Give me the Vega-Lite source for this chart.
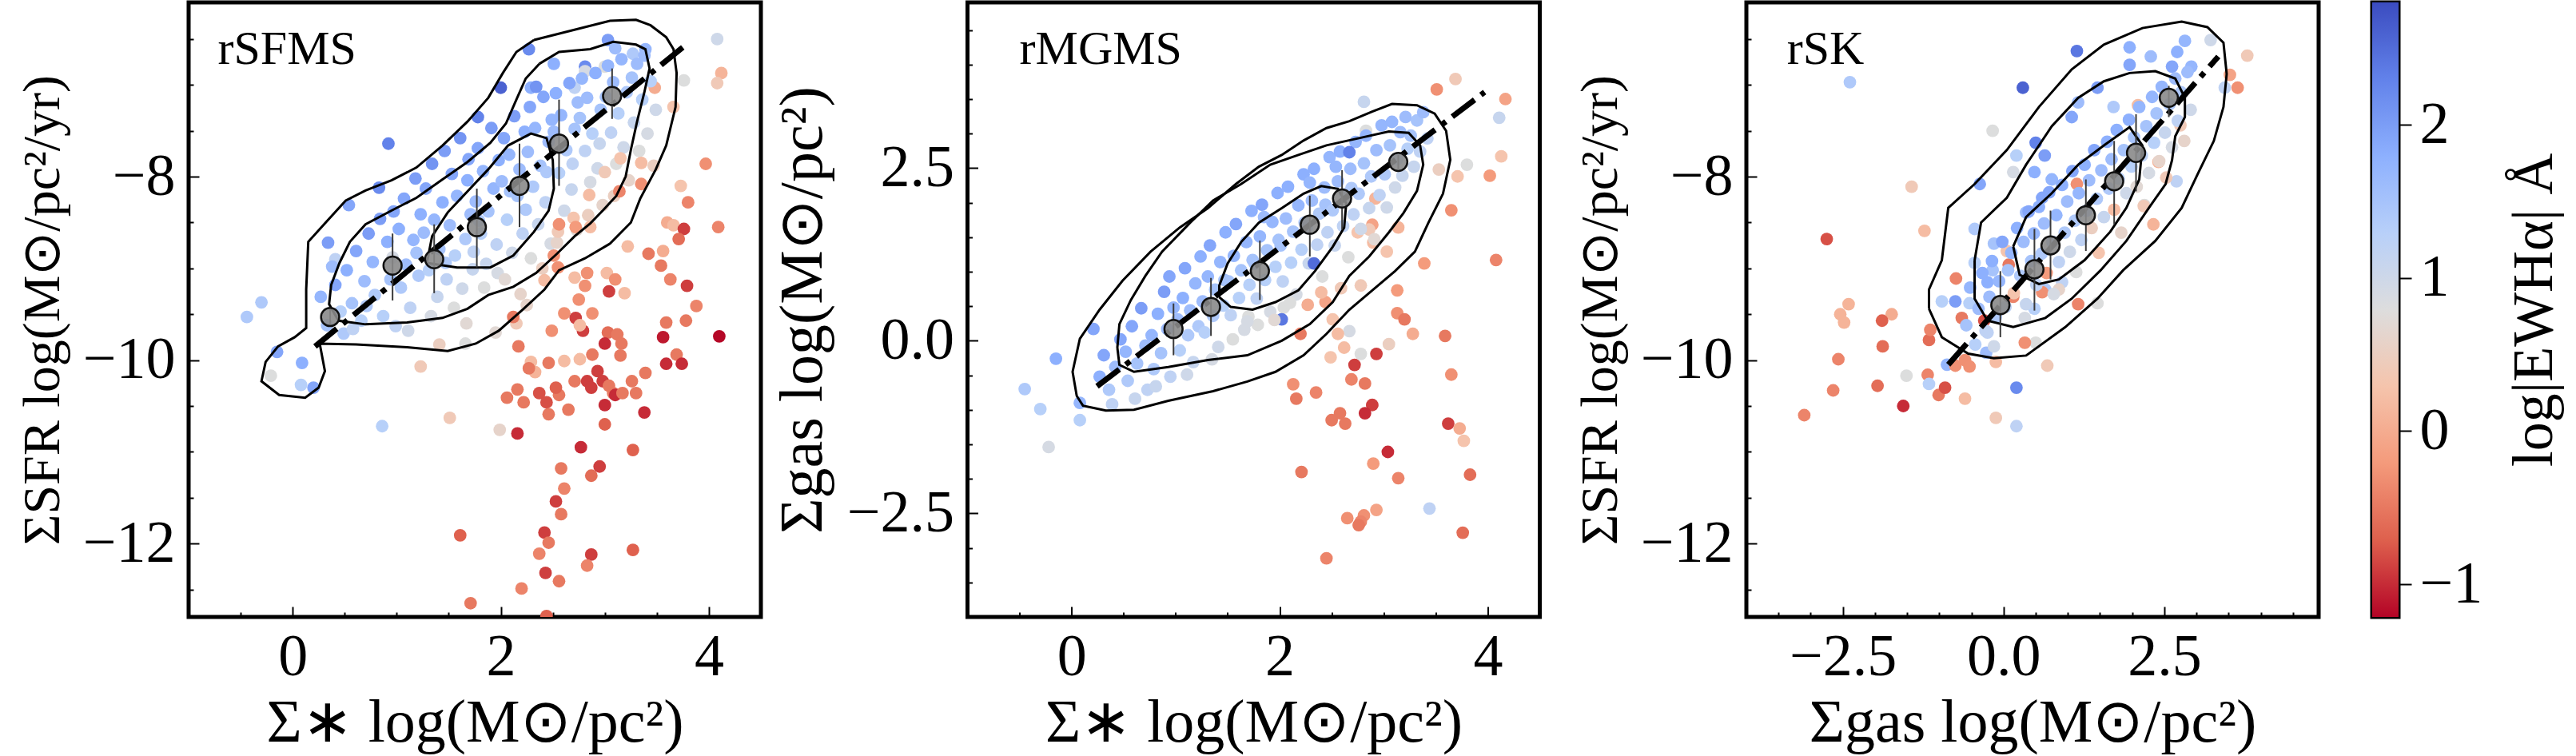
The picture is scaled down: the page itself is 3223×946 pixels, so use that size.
{
"$schema": "https://vega.github.io/schema/vega-lite/v6.json",
"padding": {"left": 17, "top": 0, "right": 0, "bottom": 0},
"background": "white",
"config": {
 "view": {"stroke": "black", "strokeWidth": 5},
 "font": "Liberation Serif",
 "axis": {"labelFont": "Liberation Serif", "titleFont": "Liberation Serif", "labelColor": "black", "titleColor": "black", "grid": false, "domain": false, "tickColor": "black", "labelFontSize": 74, "titleFontSize": 76, "titleFontWeight": "normal", "labelOverlap": false, "labelFlush": false}
},
"datasets": {
 "names": [{"name": "rSFMS"}, {"name": "rMGMS"}, {"name": "rSK"}],
 "p1": [
  {"x":2.27,"y":-6.61,"e":2.2},{"x":3.03,"y":-6.51,"e":2.0},{"x":3.10,"y":-6.60,"e":1.6},{"x":2.81,"y":-6.80,"e":2.2},{"x":2.51,"y":-6.77,"e":1.8},{"x":2.00,"y":-7.03,"e":2.6},{"x":2.29,"y":-7.03,"e":1.8},{"x":2.71,"y":-7.03,"e":1.2},{"x":2.81,"y":-6.85,"e":0.9},{"x":3.00,"y":-6.80,"e":0.8},{"x":3.27,"y":-6.66,"e":1.4},{"x":3.39,"y":-6.61,"e":1.7},{"x":3.48,"y":-7.03,"e":0.0},{"x":3.76,"y":-6.95,"e":0.8},{"x":4.08,"y":-6.50,"e":1.0},{"x":4.12,"y":-6.87,"e":0.1},{"x":4.08,"y":-6.98,"e":0.4},{"x":3.66,"y":-7.24,"e":0.3},{"x":1.78,"y":-7.35,"e":2.3},{"x":0.92,"y":-7.64,"e":2.3},{"x":0.54,"y":-8.31,"e":1.9},{"x":0.34,"y":-8.72,"e":2.0},{"x":0.41,"y":-8.90,"e":1.2},{"x":-0.30,"y":-9.37,"e":1.4},{"x":-0.44,"y":-9.53,"e":1.4},{"x":-0.15,"y":-9.91,"e":1.9},{"x":0.09,"y":-10.03,"e":1.8},{"x":-0.21,"y":-10.17,"e":0.8},{"x":0.08,"y":-10.27,"e":1.3},{"x":0.20,"y":-10.30,"e":1.9},{"x":0.86,"y":-10.72,"e":1.3},{"x":1.23,"y":-10.07,"e":0.4},{"x":1.51,"y":-10.63,"e":0.4},{"x":1.99,"y":-10.76,"e":0.6},
  {"x":0.27,"y":-9.31,"e":1.7},{"x":0.33,"y":-9.62,"e":1.5},{"x":0.41,"y":-9.18,"e":1.9},{"x":0.46,"y":-9.47,"e":1.3},{"x":0.38,"y":-8.98,"e":1.6},{"x":0.49,"y":-9.71,"e":1.4},
  {"x":0.52,"y":-9.02,"e":1.8},{"x":0.57,"y":-9.38,"e":1.5},{"x":0.61,"y":-8.81,"e":1.9},{"x":0.66,"y":-9.57,"e":1.3},{"x":0.69,"y":-9.14,"e":1.6},{"x":0.73,"y":-8.62,"e":2.0},{"x":0.58,"y":-9.66,"e":1.2},{"x":0.71,"y":-9.41,"e":1.4},
  {"x":0.77,"y":-8.93,"e":1.7},{"x":0.79,"y":-9.29,"e":1.4},{"x":0.84,"y":-8.46,"e":2.0},{"x":0.87,"y":-9.52,"e":1.3},{"x":0.91,"y":-8.71,"e":1.8},{"x":0.94,"y":-9.12,"e":1.5},{"x":0.97,"y":-8.38,"e":1.9},{"x":0.99,"y":-9.63,"e":1.2},{"x":0.83,"y":-8.12,"e":2.2},{"x":0.96,"y":-8.88,"e":0.9},
  {"x":1.02,"y":-8.57,"e":1.8},{"x":1.04,"y":-9.21,"e":1.4},{"x":1.07,"y":-8.24,"e":1.9},{"x":1.09,"y":-8.96,"e":1.6},{"x":1.13,"y":-9.43,"e":1.2},{"x":1.16,"y":-8.69,"e":1.7},{"x":1.18,"y":-8.02,"e":2.0},{"x":1.21,"y":-9.08,"e":1.4},{"x":1.23,"y":-8.41,"e":1.8},{"x":1.11,"y":-9.68,"e":1.0},{"x":1.19,"y":-8.83,"e":1.5},
  {"x":1.26,"y":-8.61,"e":1.6},{"x":1.28,"y":-8.13,"e":1.9},{"x":1.31,"y":-9.02,"e":1.3},{"x":1.34,"y":-7.86,"e":2.1},{"x":1.36,"y":-8.47,"e":1.7},{"x":1.39,"y":-9.31,"e":1.1},{"x":1.41,"y":-8.79,"e":1.5},{"x":1.44,"y":-8.28,"e":1.8},{"x":1.46,"y":-7.72,"e":2.0},{"x":1.48,"y":-9.12,"e":1.2},{"x":1.33,"y":-9.52,"e":0.9},{"x":1.47,"y":-8.94,"e":1.4},
  {"x":1.51,"y":-8.53,"e":1.6},{"x":1.53,"y":-7.97,"e":1.9},{"x":1.56,"y":-8.86,"e":1.3},{"x":1.58,"y":-8.21,"e":1.7},{"x":1.61,"y":-7.58,"e":2.1},{"x":1.63,"y":-9.22,"e":1.0},{"x":1.66,"y":-8.68,"e":1.4},{"x":1.68,"y":-8.04,"e":1.8},{"x":1.71,"y":-8.41,"e":1.6},{"x":1.73,"y":-9.01,"e":1.1},{"x":1.55,"y":-9.43,"e":0.8},{"x":1.69,"y":-7.81,"e":1.9},{"x":1.74,"y":-8.82,"e":1.2},
  {"x":1.76,"y":-8.27,"e":1.6},{"x":1.78,"y":-7.69,"e":1.9},{"x":1.81,"y":-8.62,"e":1.3},{"x":1.83,"y":-7.94,"e":1.7},{"x":1.86,"y":-8.95,"e":1.1},{"x":1.88,"y":-8.38,"e":1.5},{"x":1.91,"y":-7.47,"e":2.0},{"x":1.93,"y":-8.13,"e":1.7},{"x":1.96,"y":-8.74,"e":1.2},{"x":1.98,"y":-7.82,"e":1.8},{"x":1.84,"y":-9.21,"e":0.8},{"x":1.97,"y":-9.05,"e":0.9},{"x":1.79,"y":-8.48,"e":1.4},
  {"x":2.01,"y":-8.05,"e":1.6},{"x":2.03,"y":-7.58,"e":1.9},{"x":2.06,"y":-8.47,"e":1.3},{"x":2.08,"y":-7.76,"e":1.7},{"x":2.11,"y":-8.83,"e":1.0},{"x":2.13,"y":-7.34,"e":2.0},{"x":2.16,"y":-8.21,"e":1.5},{"x":2.18,"y":-7.92,"e":1.6},{"x":2.21,"y":-8.62,"e":1.2},{"x":2.23,"y":-7.51,"e":1.8},{"x":2.04,"y":-9.12,"e":0.7},{"x":2.19,"y":-9.28,"e":0.6},{"x":2.24,"y":-8.36,"e":1.4},{"x":2.09,"y":-8.16,"e":1.5},
  {"x":2.26,"y":-7.73,"e":1.6},{"x":2.28,"y":-7.24,"e":1.9},{"x":2.31,"y":-8.11,"e":1.4},{"x":2.33,"y":-7.47,"e":1.7},{"x":2.36,"y":-8.52,"e":1.1},{"x":2.38,"y":-7.88,"e":1.5},{"x":2.41,"y":-7.13,"e":1.9},{"x":2.43,"y":-8.28,"e":1.2},{"x":2.46,"y":-7.62,"e":1.6},{"x":2.48,"y":-8.73,"e":0.9},{"x":2.29,"y":-8.89,"e":0.8},{"x":2.44,"y":-7.95,"e":1.4},{"x":2.34,"y":-7.02,"e":2.1},{"x":2.49,"y":-7.38,"e":1.7},
  {"x":2.51,"y":-7.51,"e":1.6},{"x":2.53,"y":-7.09,"e":1.8},{"x":2.56,"y":-7.96,"e":1.3},{"x":2.58,"y":-7.33,"e":1.7},{"x":2.61,"y":-8.37,"e":1.0},{"x":2.63,"y":-7.71,"e":1.4},{"x":2.66,"y":-6.98,"e":1.9},{"x":2.68,"y":-8.14,"e":1.1},{"x":2.71,"y":-7.48,"e":1.5},{"x":2.73,"y":-8.58,"e":0.7},{"x":2.54,"y":-8.72,"e":0.6},{"x":2.69,"y":-7.86,"e":1.2},{"x":2.74,"y":-7.19,"e":1.6},
  {"x":2.76,"y":-7.36,"e":1.5},{"x":2.78,"y":-6.93,"e":1.7},{"x":2.81,"y":-7.72,"e":1.2},{"x":2.83,"y":-7.14,"e":1.6},{"x":2.86,"y":-8.06,"e":0.9},{"x":2.88,"y":-7.53,"e":1.3},{"x":2.91,"y":-6.87,"e":1.8},{"x":2.93,"y":-7.91,"e":1.0},{"x":2.96,"y":-7.27,"e":1.5},{"x":2.98,"y":-8.31,"e":0.6},{"x":2.84,"y":-8.42,"e":0.5},{"x":2.95,"y":-7.64,"e":1.1},
  {"x":3.01,"y":-7.13,"e":1.5},{"x":3.03,"y":-6.79,"e":1.7},{"x":3.06,"y":-7.52,"e":1.2},{"x":3.08,"y":-6.97,"e":1.6},{"x":3.11,"y":-7.86,"e":0.8},{"x":3.13,"y":-7.31,"e":1.3},{"x":3.16,"y":-6.72,"e":1.7},{"x":3.18,"y":-7.68,"e":1.0},{"x":3.21,"y":-7.08,"e":1.4},{"x":3.23,"y":-8.04,"e":0.6},{"x":3.09,"y":-8.21,"e":0.5},
  {"x":3.26,"y":-6.92,"e":1.5},{"x":3.28,"y":-7.41,"e":1.1},{"x":3.31,"y":-6.77,"e":1.6},{"x":3.33,"y":-7.72,"e":0.8},{"x":3.36,"y":-7.16,"e":1.3},{"x":3.38,"y":-6.68,"e":1.6},{"x":3.41,"y":-7.53,"e":0.9},{"x":3.44,"y":-6.96,"e":1.3},{"x":3.47,"y":-7.88,"e":0.5},{"x":3.49,"y":-7.27,"e":1.0},
  {"x":2.55,"y":-8.60,"e":0.4},{"x":2.70,"y":-8.45,"e":0.3},{"x":2.85,"y":-8.20,"e":0.2},{"x":3.00,"y":-7.95,"e":0.4},{"x":3.15,"y":-7.80,"e":0.3},{"x":3.35,"y":-7.85,"e":0.2},{"x":2.40,"y":-9.00,"e":0.5},{"x":2.25,"y":-9.40,"e":0.6},{"x":1.95,"y":-9.70,"e":0.7},{"x":2.15,"y":-9.60,"e":0.4},{"x":1.66,"y":-9.82,"e":0.8},{"x":1.41,"y":-9.83,"e":0.5},{"x":1.67,"y":-9.60,"e":0.7},
  {"x":3.97,"y":-7.86,"e":-0.3},{"x":3.35,"y":-8.08,"e":-0.3},{"x":3.73,"y":-8.10,"e":0.3},{"x":3.80,"y":-8.28,"e":-0.4},{"x":3.14,"y":-8.16,"e":-0.4},{"x":4.09,"y":-8.55,"e":-0.4},{"x":3.60,"y":-8.50,"e":0.0},{"x":3.66,"y":-8.53,"e":0.2},{"x":3.76,"y":-8.57,"e":-0.9},{"x":3.71,"y":-8.68,"e":-0.6},{"x":3.42,"y":-8.84,"e":-0.5},{"x":3.56,"y":-8.81,"e":0.0},{"x":3.54,"y":-8.97,"e":-0.5},{"x":3.63,"y":-9.12,"e":-0.4},{"x":3.79,"y":-9.19,"e":-0.9},{"x":3.22,"y":-8.76,"e":0.2},{"x":2.86,"y":-8.55,"e":0.2},{"x":2.72,"y":-8.55,"e":-0.2},{"x":2.56,"y":-8.52,"e":-0.3},{"x":2.51,"y":-8.86,"e":-0.3},{"x":2.55,"y":-8.99,"e":-0.3},{"x":2.42,"y":-9.13,"e":0.2},{"x":2.71,"y":-9.10,"e":0.2},{"x":2.83,"y":-9.05,"e":-0.3},{"x":3.02,"y":-9.05,"e":0.2},{"x":3.10,"y":-9.12,"e":-0.3},{"x":3.19,"y":-9.27,"e":0.2},{"x":3.04,"y":-9.25,"e":-0.9},{"x":2.81,"y":-9.19,"e":-0.3},{"x":2.75,"y":-9.34,"e":-0.3},{"x":2.61,"y":-9.49,"e":-0.3},{"x":2.49,"y":-9.68,"e":-0.3},{"x":2.72,"y":-9.54,"e":-0.9},{"x":2.79,"y":-9.68,"e":-0.9},{"x":2.88,"y":-9.49,"e":-0.3},{"x":2.76,"y":-9.62,"e":0.2},{"x":3.03,"y":-9.70,"e":-0.6},{"x":3.00,"y":-9.82,"e":-1.0},{"x":3.12,"y":-9.72,"e":-0.5},{"x":3.16,"y":-9.82,"e":-0.5},{"x":3.15,"y":-9.95,"e":-0.5},{"x":2.88,"y":-9.94,"e":-0.5},{"x":2.76,"y":-9.99,"e":0.2},{"x":2.61,"y":-10.01,"e":0.2},{"x":2.46,"y":-10.03,"e":-0.5},{"x":2.29,"y":-10.02,"e":0.2},{"x":2.33,"y":-10.13,"e":0.1},{"x":2.17,"y":-9.85,"e":-0.5},{"x":2.12,"y":-9.53,"e":-0.5},{"x":2.27,"y":-10.09,"e":-0.5},{"x":2.16,"y":-10.32,"e":-0.5},{"x":2.22,"y":-10.46,"e":-0.5},{"x":2.06,"y":-10.41,"e":-0.5},{"x":2.37,"y":-10.36,"e":-0.8},{"x":2.44,"y":-10.46,"e":-0.8},{"x":2.46,"y":-10.59,"e":-0.5},{"x":2.56,"y":-10.38,"e":-0.5},{"x":2.65,"y":-10.54,"e":-0.5},{"x":2.53,"y":-10.30,"e":-0.7},{"x":2.71,"y":-10.23,"e":-0.5},{"x":2.83,"y":-10.23,"e":-0.9},{"x":2.87,"y":-10.30,"e":-0.9},{"x":2.93,"y":-10.12,"e":-0.9},{"x":2.98,"y":-10.23,"e":-0.9},{"x":3.04,"y":-10.28,"e":-0.5},{"x":3.08,"y":-10.36,"e":-0.5},{"x":3.00,"y":-10.49,"e":-1.0},{"x":3.10,"y":-10.38,"e":-1.0},{"x":3.17,"y":-10.36,"e":-0.5},{"x":3.26,"y":-10.23,"e":-0.5},{"x":3.30,"y":-10.36,"e":-0.5},{"x":3.39,"y":-10.14,"e":-0.5},{"x":3.38,"y":-10.57,"e":-1.0},{"x":3.56,"y":-9.75,"e":-1.1},{"x":3.59,"y":-9.59,"e":-0.5},{"x":3.69,"y":-9.94,"e":-0.5},{"x":3.74,"y":-10.04,"e":-1.0},{"x":3.59,"y":-10.04,"e":-1.0},{"x":3.78,"y":-9.57,"e":-0.5},{"x":3.88,"y":-9.41,"e":-0.4},{"x":4.10,"y":-9.74,"e":-1.2},{"x":3.00,"y":-10.70,"e":-0.7},{"x":2.16,"y":-10.80,"e":-1.0},{"x":2.77,"y":-10.95,"e":-1.0},{"x":3.27,"y":-10.98,"e":-0.7},{"x":2.58,"y":-11.18,"e":-0.5},{"x":2.95,"y":-11.16,"e":-0.9},{"x":2.87,"y":-11.26,"e":-0.6},{"x":2.53,"y":-11.54,"e":-0.9},{"x":2.61,"y":-11.40,"e":-0.4},{"x":2.58,"y":-11.68,"e":-0.5},{"x":1.61,"y":-11.91,"e":-0.7},{"x":2.42,"y":-11.88,"e":-0.9},{"x":2.46,"y":-11.99,"e":-0.5},{"x":3.27,"y":-12.07,"e":-0.7},{"x":2.37,"y":-12.11,"e":-0.4},{"x":2.87,"y":-12.12,"e":-0.9},{"x":2.83,"y":-12.24,"e":-0.4},{"x":2.43,"y":-12.32,"e":-0.9},{"x":2.56,"y":-12.41,"e":-0.5},{"x":2.20,"y":-12.49,"e":-0.4},{"x":1.71,"y":-12.65,"e":-0.5},{"x":2.44,"y":-12.79,"e":-0.7}
 ],
 "c1": [
  {"c":"a","i":0,"x":2.32,"y":-6.51},{"c":"a","i":1,"x":3.05,"y":-6.30},{"c":"a","i":2,"x":3.30,"y":-6.29},{"c":"a","i":3,"x":3.44,"y":-6.35},{"c":"a","i":4,"x":3.59,"y":-6.48},{"c":"a","i":5,"x":3.66,"y":-6.61},{"c":"a","i":6,"x":3.69,"y":-6.87},{"c":"a","i":7,"x":3.68,"y":-7.24},{"c":"a","i":8,"x":3.59,"y":-7.66},{"c":"a","i":9,"x":3.49,"y":-7.92},{"c":"a","i":10,"x":3.34,"y":-8.24},{"c":"a","i":11,"x":3.25,"y":-8.50},{"c":"a","i":12,"x":3.05,"y":-8.73},{"c":"a","i":13,"x":2.81,"y":-8.89},{"c":"a","i":14,"x":2.56,"y":-9.02},{"c":"a","i":15,"x":2.42,"y":-9.23},{"c":"a","i":16,"x":2.22,"y":-9.44},{"c":"a","i":17,"x":1.98,"y":-9.68},{"c":"a","i":18,"x":1.76,"y":-9.82},{"c":"a","i":19,"x":1.49,"y":-9.90},{"c":"a","i":20,"x":1.10,"y":-9.86},{"c":"a","i":21,"x":0.61,"y":-9.83},{"c":"a","i":22,"x":0.26,"y":-9.82},{"c":"a","i":23,"x":0.31,"y":-10.12},{"c":"a","i":24,"x":0.25,"y":-10.30},{"c":"a","i":25,"x":0.12,"y":-10.41},{"c":"a","i":26,"x":-0.13,"y":-10.38},{"c":"a","i":27,"x":-0.30,"y":-10.23},{"c":"a","i":28,"x":-0.26,"y":-10.02},{"c":"a","i":29,"x":-0.14,"y":-9.85},{"c":"a","i":30,"x":0.02,"y":-9.75},{"c":"a","i":31,"x":0.13,"y":-9.65},{"c":"a","i":32,"x":0.13,"y":-9.23},{"c":"a","i":33,"x":0.15,"y":-8.71},{"c":"a","i":34,"x":0.31,"y":-8.51},{"c":"a","i":35,"x":0.51,"y":-8.26},{"c":"a","i":36,"x":0.70,"y":-8.15},{"c":"a","i":37,"x":0.95,"y":-8.04},{"c":"a","i":38,"x":1.19,"y":-7.90},{"c":"a","i":39,"x":1.44,"y":-7.66},{"c":"a","i":40,"x":1.68,"y":-7.40},{"c":"a","i":41,"x":1.88,"y":-7.14},{"c":"a","i":42,"x":2.02,"y":-6.87},{"c":"a","i":43,"x":2.15,"y":-6.64},{"c":"a","i":44,"x":2.32,"y":-6.51},
  {"c":"b","i":0,"x":2.37,"y":-6.77},{"c":"b","i":1,"x":2.56,"y":-6.64},{"c":"b","i":2,"x":2.86,"y":-6.61},{"c":"b","i":3,"x":3.08,"y":-6.53},{"c":"b","i":4,"x":3.30,"y":-6.56},{"c":"b","i":5,"x":3.39,"y":-6.61},{"c":"b","i":6,"x":3.43,"y":-6.82},{"c":"b","i":7,"x":3.38,"y":-7.08},{"c":"b","i":8,"x":3.31,"y":-7.40},{"c":"b","i":9,"x":3.25,"y":-7.71},{"c":"b","i":10,"x":3.20,"y":-8.00},{"c":"b","i":11,"x":3.11,"y":-8.21},{"c":"b","i":12,"x":2.98,"y":-8.37},{"c":"b","i":13,"x":2.86,"y":-8.51},{"c":"b","i":14,"x":2.71,"y":-8.65},{"c":"b","i":15,"x":2.54,"y":-8.84},{"c":"b","i":16,"x":2.34,"y":-9.05},{"c":"b","i":17,"x":2.12,"y":-9.20},{"c":"b","i":18,"x":1.88,"y":-9.29},{"c":"b","i":19,"x":1.68,"y":-9.44},{"c":"b","i":20,"x":1.44,"y":-9.54},{"c":"b","i":21,"x":1.10,"y":-9.59},{"c":"b","i":22,"x":0.70,"y":-9.61},{"c":"b","i":23,"x":0.44,"y":-9.57},{"c":"b","i":24,"x":0.35,"y":-9.39},{"c":"b","i":25,"x":0.37,"y":-9.18},{"c":"b","i":26,"x":0.45,"y":-8.94},{"c":"b","i":27,"x":0.55,"y":-8.71},{"c":"b","i":28,"x":0.70,"y":-8.52},{"c":"b","i":29,"x":0.95,"y":-8.37},{"c":"b","i":30,"x":1.19,"y":-8.23},{"c":"b","i":31,"x":1.44,"y":-8.03},{"c":"b","i":32,"x":1.68,"y":-7.84},{"c":"b","i":33,"x":1.90,"y":-7.63},{"c":"b","i":34,"x":2.05,"y":-7.42},{"c":"b","i":35,"x":2.15,"y":-7.16},{"c":"b","i":36,"x":2.24,"y":-6.93},{"c":"b","i":37,"x":2.37,"y":-6.77},
  {"c":"c","i":0,"x":1.29,"y":-8.94},{"c":"c","i":1,"x":1.34,"y":-8.65},{"c":"c","i":2,"x":1.49,"y":-8.39},{"c":"c","i":3,"x":1.68,"y":-8.16},{"c":"c","i":4,"x":1.88,"y":-7.92},{"c":"c","i":5,"x":2.07,"y":-7.66},{"c":"c","i":6,"x":2.29,"y":-7.53},{"c":"c","i":7,"x":2.44,"y":-7.58},{"c":"c","i":8,"x":2.50,"y":-7.82},{"c":"c","i":9,"x":2.51,"y":-8.13},{"c":"c","i":10,"x":2.46,"y":-8.37},{"c":"c","i":11,"x":2.32,"y":-8.60},{"c":"c","i":12,"x":2.12,"y":-8.86},{"c":"c","i":13,"x":1.90,"y":-8.99},{"c":"c","i":14,"x":1.58,"y":-8.99},{"c":"c","i":15,"x":1.29,"y":-8.94}
 ],
 "f1": [{"x":0.215,"y":-9.85},{"x":3.76,"y":-6.58}],
 "b1": [
  {"x":0.36,"y":-9.53,"lo":-9.62,"hi":-9.44},{"x":0.96,"y":-8.97,"lo":-9.35,"hi":-8.62},{"x":1.36,"y":-8.90,"lo":-9.27,"hi":-8.52},{"x":1.77,"y":-8.55,"lo":-8.99,"hi":-8.13},{"x":2.18,"y":-8.10,"lo":-8.55,"hi":-7.64},{"x":2.56,"y":-7.64,"lo":-8.10,"hi":-7.16},{"x":3.07,"y":-7.12,"lo":-7.37,"hi":-6.82}
 ],
 "p2": [
  {"x":-0.45,"y":-0.70,"e":1.4},{"x":-0.30,"y":-0.99,"e":1.3},{"x":-0.22,"y":-1.54,"e":0.9},{"x":0.08,"y":-1.15,"e":1.3},{"x":0.08,"y":-0.90,"e":1.7},{"x":-0.15,"y":-0.26,"e":1.8},{"x":0.21,"y":0.17,"e":1.9},{"x":2.81,"y":3.46,"e":1.1},{"x":2.83,"y":3.04,"e":0.8},{"x":3.51,"y":3.64,"e":-0.3},{"x":3.69,"y":3.79,"e":0.4},{"x":4.17,"y":3.50,"e":-0.1},{"x":4.11,"y":3.23,"e":1.1},{"x":4.13,"y":2.67,"e":0.3},{"x":4.02,"y":2.39,"e":-0.2},{"x":3.80,"y":2.55,"e":0.8},{"x":3.53,"y":2.48,"e":0.5},{"x":3.71,"y":2.38,"e":0.3},{"x":3.65,"y":1.89,"e":-0.3},{"x":3.39,"y":1.12,"e":-0.2},{"x":4.08,"y":1.17,"e":-0.4},{"x":3.13,"y":0.73,"e":-0.2},{"x":3.13,"y":0.40,"e":-0.3},{"x":3.20,"y":0.31,"e":-0.5},{"x":3.28,"y":0.10,"e":0.0},{"x":3.05,"y":-0.05,"e":0.5},{"x":3.59,"y":0.07,"e":-0.5},{"x":2.93,"y":-0.19,"e":-0.9},{"x":3.65,"y":-0.49,"e":-0.3},{"x":2.72,"y":-0.35,"e":-0.9},{"x":2.82,"y":-0.62,"e":-0.5},{"x":2.69,"y":-0.56,"e":-0.4},{"x":2.89,"y":-0.93,"e":-0.9},{"x":2.82,"y":-1.05,"e":-1.0},{"x":2.58,"y":-1.05,"e":-0.5},{"x":2.63,"y":-1.20,"e":-0.5},{"x":2.50,"y":-1.15,"e":-0.5},{"x":2.35,"y":-0.75,"e":-0.4},{"x":2.16,"y":-0.84,"e":-0.5},{"x":2.13,"y":-0.63,"e":-0.3},{"x":2.20,"y":0.10,"e":-0.5},{"x":2.49,"y":-0.24,"e":0.3},{"x":2.62,"y":-0.10,"e":0.2},{"x":2.78,"y":-0.19,"e":0.8},{"x":2.67,"y":0.14,"e":0.9},{"x":2.56,"y":0.10,"e":0.2},{"x":2.51,"y":0.31,"e":0.3},{"x":2.44,"y":0.56,"e":-0.1},{"x":2.27,"y":0.52,"e":0.0},{"x":2.40,"y":0.70,"e":0.2},{"x":2.59,"y":0.76,"e":0.4},{"x":2.78,"y":0.80,"e":0.4},{"x":2.90,"y":1.42,"e":0.2},{"x":2.89,"y":1.68,"e":-0.1},{"x":2.75,"y":1.57,"e":0.3},{"x":2.86,"y":1.61,"e":0.4},{"x":3.03,"y":1.29,"e":0.3},{"x":3.14,"y":1.64,"e":0.1},{"x":2.92,"y":2.06,"e":0.1},{"x":3.62,"y":-1.20,"e":-0.9},{"x":3.73,"y":-1.27,"e":0.0},{"x":3.77,"y":-1.45,"e":0.3},{"x":3.04,"y":-1.61,"e":-1.0},{"x":2.90,"y":-1.78,"e":-0.2},{"x":2.21,"y":-1.90,"e":-0.5},{"x":3.14,"y":-1.99,"e":-0.4},{"x":3.83,"y":-1.94,"e":-0.6},{"x":2.93,"y":-2.45,"e":-0.1},{"x":2.81,"y":-2.53,"e":-0.3},{"x":2.78,"y":-2.62,"e":-0.4},{"x":2.65,"y":-2.57,"e":-0.3},{"x":2.76,"y":-2.67,"e":-0.5},{"x":3.44,"y":-2.43,"e":1.2},{"x":3.76,"y":-2.78,"e":-0.6},{"x":2.45,"y":-3.15,"e":-0.4},
  {"x":0.27,"y":-0.52,"e":1.8},{"x":0.31,"y":-0.21,"e":1.9},{"x":0.36,"y":-0.71,"e":1.4},{"x":0.42,"y":-0.38,"e":1.6},{"x":0.47,"y":0.02,"e":1.9},{"x":0.39,"y":-0.92,"e":1.2},
  {"x":0.52,"y":-0.16,"e":1.7},{"x":0.54,"y":-0.58,"e":1.4},{"x":0.58,"y":0.21,"e":1.9},{"x":0.63,"y":-0.33,"e":1.5},{"x":0.67,"y":0.47,"e":2.0},{"x":0.71,"y":-0.07,"e":1.6},{"x":0.73,"y":-0.71,"e":1.2},{"x":0.61,"y":-0.84,"e":1.1},
  {"x":0.77,"y":0.08,"e":1.7},{"x":0.79,"y":-0.41,"e":1.4},{"x":0.83,"y":0.39,"e":1.8},{"x":0.86,"y":-0.18,"e":1.5},{"x":0.89,"y":0.71,"e":2.0},{"x":0.92,"y":0.17,"e":1.6},{"x":0.95,"y":-0.52,"e":1.2},{"x":0.98,"y":0.48,"e":1.7},{"x":0.81,"y":-0.66,"e":1.1},{"x":0.94,"y":0.93,"e":1.9},
  {"x":1.02,"y":0.31,"e":1.6},{"x":1.04,"y":-0.14,"e":1.3},{"x":1.07,"y":0.62,"e":1.8},{"x":1.09,"y":1.05,"e":1.9},{"x":1.12,"y":0.08,"e":1.4},{"x":1.14,"y":0.44,"e":1.6},{"x":1.17,"y":-0.31,"e":1.1},{"x":1.19,"y":0.83,"e":1.7},{"x":1.22,"y":0.21,"e":1.4},{"x":1.24,"y":1.22,"e":1.8},{"x":1.11,"y":-0.49,"e":1.0},
  {"x":1.26,"y":0.57,"e":1.6},{"x":1.28,"y":0.12,"e":1.3},{"x":1.31,"y":0.93,"e":1.7},{"x":1.33,"y":1.38,"e":1.9},{"x":1.36,"y":0.36,"e":1.4},{"x":1.38,"y":0.74,"e":1.5},{"x":1.41,"y":-0.09,"e":1.0},{"x":1.43,"y":1.14,"e":1.7},{"x":1.46,"y":0.51,"e":1.3},{"x":1.48,"y":1.57,"e":1.8},{"x":1.35,"y":-0.27,"e":0.9},{"x":1.47,"y":0.88,"e":1.5},
  {"x":1.51,"y":0.86,"e":1.5},{"x":1.53,"y":0.37,"e":1.2},{"x":1.56,"y":1.23,"e":1.7},{"x":1.58,"y":1.69,"e":1.9},{"x":1.61,"y":0.62,"e":1.3},{"x":1.63,"y":1.02,"e":1.5},{"x":1.66,"y":0.16,"e":0.9},{"x":1.68,"y":1.43,"e":1.7},{"x":1.71,"y":0.81,"e":1.3},{"x":1.73,"y":1.88,"e":1.8},{"x":1.55,"y":0.02,"e":0.8},{"x":1.74,"y":1.17,"e":1.5},
  {"x":1.76,"y":1.12,"e":1.5},{"x":1.78,"y":0.61,"e":1.2},{"x":1.81,"y":1.51,"e":1.7},{"x":1.83,"y":1.97,"e":1.9},{"x":1.86,"y":0.88,"e":1.3},{"x":1.88,"y":1.31,"e":1.5},{"x":1.91,"y":0.42,"e":0.9},{"x":1.93,"y":1.72,"e":1.7},{"x":1.96,"y":1.07,"e":1.3},{"x":1.98,"y":2.14,"e":1.8},{"x":1.79,"y":0.23,"e":0.8},{"x":1.99,"y":1.46,"e":1.5},{"x":1.85,"y":1.79,"e":1.6},
  {"x":2.01,"y":1.38,"e":1.5},{"x":2.03,"y":0.86,"e":1.2},{"x":2.06,"y":1.77,"e":1.6},{"x":2.08,"y":2.23,"e":1.8},{"x":2.11,"y":1.13,"e":1.3},{"x":2.13,"y":1.58,"e":1.5},{"x":2.16,"y":0.67,"e":0.9},{"x":2.18,"y":1.96,"e":1.7},{"x":2.21,"y":1.32,"e":1.3},{"x":2.23,"y":2.41,"e":1.8},{"x":2.04,"y":0.48,"e":0.8},{"x":2.24,"y":1.71,"e":1.4},
  {"x":2.26,"y":1.64,"e":1.5},{"x":2.28,"y":1.12,"e":1.1},{"x":2.31,"y":2.03,"e":1.6},{"x":2.33,"y":2.49,"e":1.8},{"x":2.36,"y":1.39,"e":1.2},{"x":2.38,"y":1.84,"e":1.4},{"x":2.41,"y":0.93,"e":0.8},{"x":2.43,"y":2.22,"e":1.6},{"x":2.46,"y":1.57,"e":1.2},{"x":2.48,"y":2.66,"e":1.7},{"x":2.29,"y":2.29,"e":1.7},{"x":2.44,"y":1.97,"e":1.5},
  {"x":2.51,"y":1.89,"e":1.4},{"x":2.53,"y":1.38,"e":1.1},{"x":2.56,"y":2.31,"e":1.6},{"x":2.58,"y":2.74,"e":1.8},{"x":2.61,"y":1.66,"e":1.2},{"x":2.63,"y":2.12,"e":1.4},{"x":2.66,"y":1.21,"e":0.8},{"x":2.68,"y":2.49,"e":1.6},{"x":2.71,"y":1.83,"e":1.2},{"x":2.73,"y":2.88,"e":1.7},{"x":2.54,"y":2.52,"e":1.7},{"x":2.69,"y":2.21,"e":1.4},
  {"x":2.76,"y":2.13,"e":1.4},{"x":2.78,"y":1.62,"e":1.0},{"x":2.81,"y":2.57,"e":1.5},{"x":2.83,"y":2.97,"e":1.7},{"x":2.86,"y":1.92,"e":1.1},{"x":2.88,"y":2.38,"e":1.4},{"x":2.91,"y":1.47,"e":0.7},{"x":2.93,"y":2.76,"e":1.6},{"x":2.96,"y":2.11,"e":1.2},{"x":2.98,"y":3.12,"e":1.7},
  {"x":3.01,"y":2.41,"e":1.4},{"x":3.03,"y":1.93,"e":1.0},{"x":3.06,"y":2.83,"e":1.5},{"x":3.08,"y":3.17,"e":1.7},{"x":3.11,"y":2.22,"e":1.0},{"x":3.13,"y":2.63,"e":1.3},{"x":3.16,"y":3.02,"e":1.6},{"x":3.18,"y":2.39,"e":1.1},{"x":3.21,"y":3.24,"e":1.6},{"x":3.23,"y":2.78,"e":1.3},
  {"x":3.26,"y":2.97,"e":1.5},{"x":3.29,"y":2.52,"e":1.1},{"x":3.32,"y":3.19,"e":1.5},{"x":3.35,"y":2.74,"e":1.2},{"x":3.38,"y":3.31,"e":1.6},{"x":3.42,"y":2.93,"e":1.2},
  {"x":2.33,"y":1.12,"e":2.5},{"x":2.02,"y":0.31,"e":2.4},{"x":2.67,"y":2.73,"e":2.3},{"x":1.70,"y":0.35,"e":0.8},{"x":1.95,"y":0.30,"e":0.7},{"x":2.10,"y":0.55,"e":0.8},{"x":1.69,"y":0.28,"e":0.9}
 ],
 "c2": [
  {"c":"a","i":0,"x":0.05,"y":-0.80},{"c":"a","i":1,"x":0.11,"y":-0.94},{"c":"a","i":2,"x":0.33,"y":-1.01},{"c":"a","i":3,"x":0.60,"y":-1.00},{"c":"a","i":4,"x":0.93,"y":-0.87},{"c":"a","i":5,"x":1.36,"y":-0.73},{"c":"a","i":6,"x":1.69,"y":-0.59},{"c":"a","i":7,"x":1.96,"y":-0.45},{"c":"a","i":8,"x":2.23,"y":-0.21},{"c":"a","i":9,"x":2.45,"y":0.10},{"c":"a","i":10,"x":2.67,"y":0.45},{"c":"a","i":11,"x":2.89,"y":0.73},{"c":"a","i":12,"x":3.11,"y":1.01},{"c":"a","i":13,"x":3.30,"y":1.29},{"c":"a","i":14,"x":3.43,"y":1.71},{"c":"a","i":15,"x":3.57,"y":2.13},{"c":"a","i":16,"x":3.64,"y":2.62},{"c":"a","i":17,"x":3.60,"y":3.04},{"c":"a","i":18,"x":3.49,"y":3.29},{"c":"a","i":19,"x":3.32,"y":3.41},{"c":"a","i":20,"x":3.08,"y":3.43},{"c":"a","i":21,"x":2.89,"y":3.32},{"c":"a","i":22,"x":2.67,"y":3.18},{"c":"a","i":23,"x":2.45,"y":3.08},{"c":"a","i":24,"x":2.23,"y":2.90},{"c":"a","i":25,"x":2.02,"y":2.69},{"c":"a","i":26,"x":1.80,"y":2.52},{"c":"a","i":27,"x":1.58,"y":2.27},{"c":"a","i":28,"x":1.31,"y":1.92},{"c":"a","i":29,"x":1.04,"y":1.64},{"c":"a","i":30,"x":0.76,"y":1.29},{"c":"a","i":31,"x":0.49,"y":0.87},{"c":"a","i":32,"x":0.27,"y":0.45},{"c":"a","i":33,"x":0.08,"y":0.03},{"c":"a","i":34,"x":0.01,"y":-0.45},{"c":"a","i":35,"x":0.05,"y":-0.80},
  {"c":"b","i":0,"x":0.44,"y":-0.10},{"c":"b","i":1,"x":0.46,"y":-0.35},{"c":"b","i":2,"x":0.60,"y":-0.45},{"c":"b","i":3,"x":0.93,"y":-0.38},{"c":"b","i":4,"x":1.31,"y":-0.28},{"c":"b","i":5,"x":1.69,"y":-0.21},{"c":"b","i":6,"x":2.02,"y":0.00},{"c":"b","i":7,"x":2.29,"y":0.24},{"c":"b","i":8,"x":2.51,"y":0.56},{"c":"b","i":9,"x":2.67,"y":0.94},{"c":"b","i":10,"x":2.86,"y":1.22},{"c":"b","i":11,"x":3.05,"y":1.57},{"c":"b","i":12,"x":3.19,"y":1.85},{"c":"b","i":13,"x":3.32,"y":2.17},{"c":"b","i":14,"x":3.38,"y":2.55},{"c":"b","i":15,"x":3.35,"y":2.83},{"c":"b","i":16,"x":3.24,"y":3.01},{"c":"b","i":17,"x":3.05,"y":3.03},{"c":"b","i":18,"x":2.78,"y":2.94},{"c":"b","i":19,"x":2.45,"y":2.83},{"c":"b","i":20,"x":2.18,"y":2.69},{"c":"b","i":21,"x":1.91,"y":2.55},{"c":"b","i":22,"x":1.63,"y":2.27},{"c":"b","i":23,"x":1.36,"y":2.03},{"c":"b","i":24,"x":1.14,"y":1.71},{"c":"b","i":25,"x":0.87,"y":1.29},{"c":"b","i":26,"x":0.71,"y":0.94},{"c":"b","i":27,"x":0.57,"y":0.59},{"c":"b","i":28,"x":0.46,"y":0.24},{"c":"b","i":29,"x":0.44,"y":-0.10},
  {"c":"c","i":0,"x":1.42,"y":0.63},{"c":"c","i":1,"x":1.53,"y":0.49},{"c":"c","i":2,"x":1.74,"y":0.45},{"c":"c","i":3,"x":1.96,"y":0.56},{"c":"c","i":4,"x":2.18,"y":0.73},{"c":"c","i":5,"x":2.34,"y":1.01},{"c":"c","i":6,"x":2.51,"y":1.36},{"c":"c","i":7,"x":2.62,"y":1.64},{"c":"c","i":8,"x":2.64,"y":1.99},{"c":"c","i":9,"x":2.56,"y":2.20},{"c":"c","i":10,"x":2.40,"y":2.24},{"c":"c","i":11,"x":2.23,"y":2.13},{"c":"c","i":12,"x":2.02,"y":1.92},{"c":"c","i":13,"x":1.80,"y":1.71},{"c":"c","i":14,"x":1.63,"y":1.43},{"c":"c","i":15,"x":1.50,"y":1.12},{"c":"c","i":16,"x":1.42,"y":0.80},{"c":"c","i":17,"x":1.42,"y":0.63}
 ],
 "f2": [{"x":0.245,"y":-0.66},{"x":3.97,"y":3.60}],
 "b2": [
  {"x":0.98,"y":0.17,"lo":-0.21,"hi":0.54},{"x":1.34,"y":0.49,"lo":0.07,"hi":0.91},{"x":1.81,"y":1.01,"lo":0.59,"hi":1.45},{"x":2.29,"y":1.68,"lo":1.22,"hi":2.10},{"x":2.60,"y":2.06,"lo":1.61,"hi":2.47},{"x":3.14,"y":2.59,"lo":2.48,"hi":2.69}
 ],
 "p3": [
  {"x":-2.39,"y":-6.97,"e":1.4},{"x":-2.75,"y":-8.68,"e":-0.8},{"x":-1.43,"y":-8.11,"e":0.4},{"x":-1.23,"y":-8.59,"e":0.2},{"x":-2.41,"y":-9.39,"e":0.1},{"x":-2.54,"y":-9.50,"e":0.1},{"x":-2.48,"y":-9.59,"e":0.1},{"x":-1.74,"y":-9.50,"e":0.0},{"x":-1.89,"y":-9.57,"e":-0.7},{"x":-2.57,"y":-9.99,"e":-0.4},{"x":-1.88,"y":-9.85,"e":-0.6},{"x":-2.65,"y":-10.33,"e":-0.4},{"x":-1.96,"y":-10.28,"e":-0.6},{"x":-3.10,"y":-10.60,"e":-0.4},{"x":-1.56,"y":-10.50,"e":-1.0},{"x":-1.51,"y":-10.17,"e":0.8},{"x":-1.16,"y":-9.78,"e":-0.6},{"x":-1.14,"y":-9.67,"e":-0.4},{"x":-1.18,"y":-10.16,"e":-0.4},{"x":-1.16,"y":-10.26,"e":1.3},{"x":-1.01,"y":-10.38,"e":-0.5},{"x":-0.91,"y":-10.30,"e":-0.8},{"x":-0.88,"y":-10.05,"e":1.7},{"x":-0.60,"y":-10.42,"e":0.2},{"x":-0.60,"y":-10.00,"e":-0.3},{"x":-0.75,"y":-10.06,"e":-0.3},{"x":-0.53,"y":-10.07,"e":-0.3},{"x":-0.12,"y":-10.02,"e":0.2},{"x":-0.12,"y":-10.63,"e":0.4},{"x":0.20,"y":-10.72,"e":1.2},{"x":0.20,"y":-10.30,"e":2.2},{"x":0.68,"y":-10.06,"e":0.4},{"x":0.50,"y":-9.81,"e":0.8},{"x":0.33,"y":-9.81,"e":-0.3},{"x":-0.27,"y":-9.92,"e":1.6},{"x":-0.30,"y":-9.57,"e":-0.8},{"x":-0.65,"y":-9.54,"e":-0.5},{"x":-0.17,"y":-7.50,"e":0.8},{"x":-0.37,"y":-8.08,"e":1.9},{"x":0.30,"y":-7.03,"e":2.6},{"x":1.14,"y":-6.63,"e":2.4},{"x":1.96,"y":-6.59,"e":1.8},{"x":1.96,"y":-6.78,"e":1.9},{"x":2.29,"y":-6.69,"e":1.6},{"x":2.70,"y":-6.64,"e":1.8},{"x":2.82,"y":-6.52,"e":1.7},{"x":3.22,"y":-6.51,"e":1.0},{"x":3.79,"y":-6.68,"e":0.4},{"x":3.52,"y":-6.89,"e":-0.1},{"x":3.64,"y":-7.03,"e":-0.3},{"x":3.44,"y":-7.03,"e":1.2},{"x":2.92,"y":-6.80,"e":1.7},{"x":2.62,"y":-6.80,"e":1.9},{"x":2.75,"y":-7.44,"e":0.4},{"x":2.69,"y":-8.05,"e":1.2},{"x":2.33,"y":-8.52,"e":0.1},{"x":2.41,"y":-7.84,"e":0.1},{"x":2.19,"y":-8.31,"e":0.8},{"x":2.09,"y":-7.22,"e":0.2},{"x":1.16,"y":-7.19,"e":1.6},{"x":1.06,"y":-7.35,"e":1.9},{"x":1.46,"y":-7.03,"e":2.0},{"x":1.71,"y":-7.24,"e":1.4},{"x":0.50,"y":-7.63,"e":2.3},{"x":0.64,"y":-7.77,"e":2.0},{"x":0.20,"y":-7.77,"e":1.3},{"x":0.15,"y":-7.95,"e":0.9},{"x":0.48,"y":-7.95,"e":1.8},{"x":0.75,"y":-8.03,"e":1.7},{"x":1.14,"y":-8.08,"e":-0.3},{"x":0.60,"y":-8.23,"e":1.9},{"x":0.35,"y":-8.39,"e":1.6},{"x":-0.45,"y":-8.57,"e":1.4},{"x":-0.15,"y":-8.73,"e":1.5},{"x":0.05,"y":-8.81,"e":0.3},{"x":0.08,"y":-8.96,"e":-0.5},{"x":-0.45,"y":-8.94,"e":1.3},{"x":-0.17,"y":-9.02,"e":1.5},{"x":-0.25,"y":-9.15,"e":1.8},{"x":-0.74,"y":-9.11,"e":-0.4},{"x":-0.96,"y":-9.36,"e":1.3},{"x":-0.75,"y":-9.36,"e":2.0},{"x":-0.53,"y":-9.38,"e":1.3},{"x":-0.25,"y":-9.70,"e":1.2},{"x":0.15,"y":-9.31,"e":-0.4},{"x":0.33,"y":-9.54,"e":0.9},{"x":0.48,"y":-9.44,"e":1.3},{"x":0.65,"y":-9.23,"e":1.4},{"x":0.91,"y":-9.15,"e":1.2},{"x":1.16,"y":-9.39,"e":-0.4},{"x":1.46,"y":-9.38,"e":0.8},{"x":0.60,"y":-9.26,"e":-0.3},{"x":0.86,"y":-9.23,"e":0.6},
  {"x":-0.58,"y":-9.62,"e":1.5},{"x":-0.52,"y":-9.21,"e":1.7},{"x":-0.44,"y":-9.83,"e":1.3},{"x":-0.39,"y":-9.44,"e":1.6},{"x":-0.33,"y":-9.05,"e":1.8},{"x":-0.28,"y":-9.68,"e":1.2},
  {"x":-0.22,"y":-9.31,"e":1.6},{"x":-0.18,"y":-8.92,"e":1.8},{"x":-0.12,"y":-9.53,"e":1.4},{"x":-0.07,"y":-9.14,"e":1.7},{"x":-0.02,"y":-8.71,"e":1.9},{"x":0.03,"y":-9.42,"e":1.2},{"x":0.07,"y":-9.02,"e":1.5},{"x":-0.15,"y":-9.85,"e":1.0},
  {"x":0.12,"y":-8.83,"e":1.7},{"x":0.16,"y":-9.27,"e":0.3},{"x":0.21,"y":-8.56,"e":1.8},{"x":0.26,"y":-9.08,"e":1.4},{"x":0.31,"y":-8.71,"e":1.6},{"x":0.35,"y":-9.39,"e":1.1},{"x":0.39,"y":-8.38,"e":1.9},{"x":0.43,"y":-8.92,"e":1.5},
  {"x":0.47,"y":-8.62,"e":1.7},{"x":0.51,"y":-9.18,"e":1.2},{"x":0.55,"y":-8.33,"e":1.8},{"x":0.59,"y":-8.84,"e":1.4},{"x":0.63,"y":-8.51,"e":1.6},{"x":0.67,"y":-9.05,"e":-0.2},{"x":0.71,"y":-8.17,"e":1.9},{"x":0.76,"y":-8.71,"e":1.5},{"x":0.78,"y":-9.28,"e":0.9},
  {"x":0.82,"y":-8.42,"e":1.7},{"x":0.86,"y":-8.93,"e":1.2},{"x":0.91,"y":-8.09,"e":1.8},{"x":0.95,"y":-8.61,"e":1.4},{"x":0.99,"y":-8.27,"e":1.6},{"x":1.03,"y":-8.82,"e":1.0},{"x":1.07,"y":-7.94,"e":1.9},{"x":1.11,"y":-8.48,"e":1.4},{"x":1.13,"y":-9.04,"e":0.8},
  {"x":1.17,"y":-8.18,"e":1.7},{"x":1.21,"y":-8.69,"e":1.2},{"x":1.26,"y":-7.87,"e":1.8},{"x":1.29,"y":-8.37,"e":1.5},{"x":1.33,"y":-8.04,"e":1.6},{"x":1.37,"y":-8.56,"e":0.5},{"x":1.41,"y":-7.71,"e":1.9},{"x":1.45,"y":-8.24,"e":1.4},{"x":1.48,"y":-8.83,"e":0.3},
  {"x":1.52,"y":-7.93,"e":1.6},{"x":1.56,"y":-8.44,"e":1.1},{"x":1.61,"y":-7.62,"e":1.8},{"x":1.64,"y":-8.13,"e":1.4},{"x":1.68,"y":-7.81,"e":1.6},{"x":1.72,"y":-8.36,"e":0.2},{"x":1.76,"y":-7.49,"e":1.8},{"x":1.79,"y":-8.02,"e":1.3},{"x":1.83,"y":-8.61,"e":0.6},
  {"x":1.87,"y":-7.71,"e":1.5},{"x":1.91,"y":-8.18,"e":1.0},{"x":1.95,"y":-7.38,"e":1.8},{"x":1.99,"y":-7.89,"e":1.3},{"x":2.03,"y":-7.57,"e":1.5},{"x":2.07,"y":-8.11,"e":0.7},{"x":2.11,"y":-7.24,"e":1.7},{"x":2.15,"y":-7.77,"e":1.2},{"x":2.18,"y":-8.32,"e":0.4},
  {"x":2.22,"y":-7.45,"e":1.5},{"x":2.26,"y":-7.96,"e":0.9},{"x":2.31,"y":-7.13,"e":1.7},{"x":2.34,"y":-7.63,"e":1.3},{"x":2.38,"y":-7.31,"e":1.5},{"x":2.42,"y":-7.83,"e":0.6},{"x":2.46,"y":-7.02,"e":1.7},{"x":2.51,"y":-7.52,"e":1.1},{"x":2.53,"y":-8.01,"e":0.4},
  {"x":2.58,"y":-7.21,"e":1.4},{"x":2.62,"y":-7.68,"e":0.9},{"x":2.67,"y":-6.93,"e":1.6},{"x":2.71,"y":-7.39,"e":1.2},{"x":2.76,"y":-7.08,"e":1.4},{"x":2.81,"y":-7.61,"e":0.6},{"x":2.86,"y":-6.86,"e":1.6},{"x":2.91,"y":-7.27,"e":1.0}
 ],
 "c3": [
  {"c":"a","i":0,"x":-1.16,"y":-9.44},{"c":"a","i":1,"x":-1.16,"y":-9.23},{"c":"a","i":2,"x":-0.96,"y":-8.91},{"c":"a","i":3,"x":-0.86,"y":-8.34},{"c":"a","i":4,"x":-0.45,"y":-8.08},{"c":"a","i":5,"x":0.05,"y":-7.71},{"c":"a","i":6,"x":0.55,"y":-7.24},{"c":"a","i":7,"x":1.06,"y":-6.83},{"c":"a","i":8,"x":1.56,"y":-6.56},{"c":"a","i":9,"x":2.16,"y":-6.38},{"c":"a","i":10,"x":2.77,"y":-6.31},{"c":"a","i":11,"x":3.17,"y":-6.37},{"c":"a","i":12,"x":3.42,"y":-6.54},{"c":"a","i":13,"x":3.47,"y":-6.88},{"c":"a","i":14,"x":3.42,"y":-7.24},{"c":"a","i":15,"x":3.27,"y":-7.61},{"c":"a","i":16,"x":3.02,"y":-7.97},{"c":"a","i":17,"x":2.77,"y":-8.34},{"c":"a","i":18,"x":2.36,"y":-8.70},{"c":"a","i":19,"x":1.86,"y":-9.02},{"c":"a","i":20,"x":1.46,"y":-9.33},{"c":"a","i":21,"x":0.96,"y":-9.64},{"c":"a","i":22,"x":0.35,"y":-9.95},{"c":"a","i":23,"x":-0.15,"y":-9.98},{"c":"a","i":24,"x":-0.55,"y":-9.93},{"c":"a","i":25,"x":-0.96,"y":-9.75},{"c":"a","i":26,"x":-1.16,"y":-9.44},
  {"c":"b","i":0,"x":-0.45,"y":-8.91},{"c":"b","i":1,"x":-0.35,"y":-8.50},{"c":"b","i":2,"x":0.05,"y":-8.23},{"c":"b","i":3,"x":0.35,"y":-7.87},{"c":"b","i":4,"x":0.75,"y":-7.45},{"c":"b","i":5,"x":1.16,"y":-7.14},{"c":"b","i":6,"x":1.56,"y":-6.96},{"c":"b","i":7,"x":1.96,"y":-6.87},{"c":"b","i":8,"x":2.36,"y":-6.85},{"c":"b","i":9,"x":2.67,"y":-6.93},{"c":"b","i":10,"x":2.82,"y":-7.14},{"c":"b","i":11,"x":2.82,"y":-7.35},{"c":"b","i":12,"x":2.67,"y":-7.56},{"c":"b","i":13,"x":2.62,"y":-7.82},{"c":"b","i":14,"x":2.52,"y":-8.08},{"c":"b","i":15,"x":2.26,"y":-8.34},{"c":"b","i":16,"x":1.91,"y":-8.70},{"c":"b","i":17,"x":1.51,"y":-9.02},{"c":"b","i":18,"x":1.06,"y":-9.33},{"c":"b","i":19,"x":0.65,"y":-9.54},{"c":"b","i":20,"x":0.15,"y":-9.64},{"c":"b","i":21,"x":-0.25,"y":-9.57},{"c":"b","i":22,"x":-0.45,"y":-9.33},{"c":"b","i":23,"x":-0.45,"y":-8.91},
  {"c":"c","i":0,"x":0.15,"y":-8.76},{"c":"c","i":1,"x":0.35,"y":-8.44},{"c":"c","i":2,"x":0.75,"y":-8.18},{"c":"c","i":3,"x":1.16,"y":-7.87},{"c":"c","i":4,"x":1.56,"y":-7.66},{"c":"c","i":5,"x":1.96,"y":-7.46},{"c":"c","i":6,"x":2.16,"y":-7.66},{"c":"c","i":7,"x":2.11,"y":-8.03},{"c":"c","i":8,"x":1.91,"y":-8.34},{"c":"c","i":9,"x":1.66,"y":-8.60},{"c":"c","i":10,"x":1.26,"y":-8.91},{"c":"c","i":11,"x":0.86,"y":-9.12},{"c":"c","i":12,"x":0.55,"y":-9.17},{"c":"c","i":13,"x":0.25,"y":-9.07},{"c":"c","i":14,"x":0.15,"y":-8.76}
 ],
 "f3": [{"x":-0.86,"y":-10.05},{"x":3.34,"y":-6.69}],
 "b3": [
  {"x":-0.05,"y":-9.40,"lo":-9.75,"hi":-9.03},{"x":0.48,"y":-9.01,"lo":-9.46,"hi":-8.57},{"x":0.73,"y":-8.75,"lo":-9.12,"hi":-8.37},{"x":1.28,"y":-8.42,"lo":-8.81,"hi":-8.03},{"x":1.72,"y":-8.05,"lo":-8.52,"hi":-7.61},{"x":2.06,"y":-7.74,"lo":-8.16,"hi":-7.32},{"x":2.57,"y":-7.14,"lo":-7.35,"hi":-7.01}
 ],
 "cb": [{"lo": -1.214, "hi": 2.8}]
},
"spacing": 61,
"hconcat": [
 {
  "bounds": "flush",
  "spacing": 258.5,
  "hconcat": [
   {
    "width": 716, "height": 769,
    "resolve": {"axis": {"x": "independent", "y": "independent"}},
    "layer": [
     {"data": {"name": "p1"}, "mark": {"type": "circle", "size": 250, "opacity": 1, "clip": true},
      "encoding": {
       "x": {"field": "x", "type": "quantitative", "scale": {"domain": [-1, 4.5], "nice": false, "zero": false}, "axis": {"orient": "bottom", "values": [0, 2, 4], "ticks": false, "labelPadding": 14, "title": "Σ∗ log(M⊙/pc²)", "titlePadding": 8}},
       "y": {"field": "y", "type": "quantitative", "scale": {"domain": [-12.8, -6.1], "nice": false, "zero": false}, "axis": {"orient": "left", "values": [-12, -10, -8], "ticks": false, "labelPadding": 17, "title": "ΣSFR log(M⊙/pc²/yr)", "titleFontSize": 66, "titlePadding": 16}},
       "color": {"field": "e", "type": "quantitative", "scale": {"domain": [-1.214, -0.712, -0.211, 0.291, 0.793, 1.294, 1.796, 2.298, 2.8], "range": ["#b40426", "#de604d", "#f49a7b", "#f5c4ac", "#dddddd", "#b8d0f9", "#8db0fe", "#6282ea", "#3b4cc0"], "interpolate": "rgb"}, "legend": null}}},
     {"data": {"name": "c1"}, "mark": {"type": "line", "color": "black", "strokeWidth": 3, "clip": true},
      "encoding": {
       "x": {"field": "x", "type": "quantitative", "scale": {"domain": [-1, 4.5], "nice": false, "zero": false}, "axis": {"orient": "bottom", "values": [0, 2, 4], "labels": false, "tickSize": -13, "tickWidth": 2, "title": null}},
       "y": {"field": "y", "type": "quantitative", "scale": {"domain": [-12.8, -6.1], "nice": false, "zero": false}, "axis": {"orient": "left", "values": [-12, -10, -8], "labels": false, "tickSize": -13, "tickWidth": 2, "title": null}},
       "detail": {"field": "c", "type": "nominal"},
       "order": {"field": "i", "type": "quantitative"}}},
     {"data": {"name": "f1"}, "mark": {"type": "line", "color": "black", "strokeWidth": 7, "strokeDash": [35, 10, 7, 10], "strokeCap": "butt"},
      "encoding": {
       "x": {"field": "x", "type": "quantitative", "scale": {"domain": [-1, 4.5], "nice": false, "zero": false}, "axis": {"orient": "bottom", "values": [-0.5, 0.5, 1, 1.5, 2.5, 3, 3.5, 4.5], "labels": false, "tickSize": -6, "tickWidth": 2, "title": null}},
       "y": {"field": "y", "type": "quantitative", "scale": {"domain": [-12.8, -6.1], "nice": false, "zero": false}, "axis": {"orient": "left", "values": [-12.5, -11.5, -11, -10.5, -9.5, -9, -8.5, -7.5, -7, -6.5], "labels": false, "tickSize": -6, "tickWidth": 2, "title": null}}}},
     {"data": {"name": "b1"}, "mark": {"type": "rule", "color": "#3a3a3a", "strokeWidth": 2},
      "encoding": {
       "x": {"field": "x", "type": "quantitative", "scale": {"domain": [-1, 4.5], "nice": false, "zero": false}, "axis": null},
       "y": {"field": "lo", "type": "quantitative", "scale": {"domain": [-12.8, -6.1], "nice": false, "zero": false}, "axis": null},
       "y2": {"field": "hi"}}},
     {"data": {"name": "b1"}, "mark": {"type": "circle", "size": 520, "fill": "#8a8a8a", "fillOpacity": 0.9, "stroke": "#111111", "strokeWidth": 2.5},
      "encoding": {
       "x": {"field": "x", "type": "quantitative", "scale": {"domain": [-1, 4.5], "nice": false, "zero": false}, "axis": null},
       "y": {"field": "y", "type": "quantitative", "scale": {"domain": [-12.8, -6.1], "nice": false, "zero": false}, "axis": null}}},
     {"data": {"name": "names"}, "transform": [{"filter": "datum.name === 'rSFMS'"}], "mark": {"type": "text", "align": "left", "baseline": "alphabetic", "fontSize": 60, "font": "Liberation Serif", "color": "black"},
      "encoding": {
       "x": {"datum": -0.72, "type": "quantitative", "scale": {"domain": [-1, 4.5], "nice": false, "zero": false}, "axis": null},
       "y": {"datum": -6.77, "type": "quantitative", "scale": {"domain": [-12.8, -6.1], "nice": false, "zero": false}, "axis": null},
       "text": {"field": "name"}}}
    ]
   },
   {
    "width": 716, "height": 769,
    "resolve": {"axis": {"x": "independent", "y": "independent"}},
    "layer": [
     {"data": {"name": "p2"}, "mark": {"type": "circle", "size": 250, "opacity": 1, "clip": true},
      "encoding": {
       "x": {"field": "x", "type": "quantitative", "scale": {"domain": [-1, 4.5], "nice": false, "zero": false}, "axis": {"orient": "bottom", "values": [0, 2, 4], "ticks": false, "labelPadding": 14, "title": "Σ∗ log(M⊙/pc²)", "titlePadding": 8}},
       "y": {"field": "y", "type": "quantitative", "scale": {"domain": [-4, 4.9], "nice": false, "zero": false}, "axis": {"orient": "left", "values": [-2.5, 0, 2.5], "format": ".1f", "ticks": false, "labelPadding": 17, "title": "Σgas log(M⊙/pc²)", "titlePadding": 16}},
       "color": {"field": "e", "type": "quantitative", "scale": {"domain": [-1.214, -0.712, -0.211, 0.291, 0.793, 1.294, 1.796, 2.298, 2.8], "range": ["#b40426", "#de604d", "#f49a7b", "#f5c4ac", "#dddddd", "#b8d0f9", "#8db0fe", "#6282ea", "#3b4cc0"], "interpolate": "rgb"}, "legend": null}}},
     {"data": {"name": "c2"}, "mark": {"type": "line", "color": "black", "strokeWidth": 3, "clip": true},
      "encoding": {
       "x": {"field": "x", "type": "quantitative", "scale": {"domain": [-1, 4.5], "nice": false, "zero": false}, "axis": {"orient": "bottom", "values": [0, 2, 4], "labels": false, "tickSize": -13, "tickWidth": 2, "title": null}},
       "y": {"field": "y", "type": "quantitative", "scale": {"domain": [-4, 4.9], "nice": false, "zero": false}, "axis": {"orient": "left", "values": [-2.5, 0, 2.5], "labels": false, "tickSize": -13, "tickWidth": 2, "title": null}},
       "detail": {"field": "c", "type": "nominal"},
       "order": {"field": "i", "type": "quantitative"}}},
     {"data": {"name": "f2"}, "mark": {"type": "line", "color": "black", "strokeWidth": 7, "strokeDash": [35, 10, 7, 10], "strokeCap": "butt"},
      "encoding": {
       "x": {"field": "x", "type": "quantitative", "scale": {"domain": [-1, 4.5], "nice": false, "zero": false}, "axis": {"orient": "bottom", "values": [-0.5, 0.5, 1, 1.5, 2.5, 3, 3.5, 4.5], "labels": false, "tickSize": -6, "tickWidth": 2, "title": null}},
       "y": {"field": "y", "type": "quantitative", "scale": {"domain": [-4, 4.9], "nice": false, "zero": false}, "axis": {"orient": "left", "values": [-3.5, -3, -2, -1.5, -1, -0.5, 0.5, 1, 1.5, 2, 3, 3.5, 4, 4.5], "labels": false, "tickSize": -6, "tickWidth": 2, "title": null}}}},
     {"data": {"name": "b2"}, "mark": {"type": "rule", "color": "#3a3a3a", "strokeWidth": 2},
      "encoding": {
       "x": {"field": "x", "type": "quantitative", "scale": {"domain": [-1, 4.5], "nice": false, "zero": false}, "axis": null},
       "y": {"field": "lo", "type": "quantitative", "scale": {"domain": [-4, 4.9], "nice": false, "zero": false}, "axis": null},
       "y2": {"field": "hi"}}},
     {"data": {"name": "b2"}, "mark": {"type": "circle", "size": 520, "fill": "#8a8a8a", "fillOpacity": 0.9, "stroke": "#111111", "strokeWidth": 2.5},
      "encoding": {
       "x": {"field": "x", "type": "quantitative", "scale": {"domain": [-1, 4.5], "nice": false, "zero": false}, "axis": null},
       "y": {"field": "y", "type": "quantitative", "scale": {"domain": [-4, 4.9], "nice": false, "zero": false}, "axis": null}}},
     {"data": {"name": "names"}, "transform": [{"filter": "datum.name === 'rMGMS'"}], "mark": {"type": "text", "align": "left", "baseline": "alphabetic", "fontSize": 60, "font": "Liberation Serif", "color": "black"},
      "encoding": {
       "x": {"datum": -0.50, "type": "quantitative", "scale": {"domain": [-1, 4.5], "nice": false, "zero": false}, "axis": null},
       "y": {"datum": 4.01, "type": "quantitative", "scale": {"domain": [-4, 4.9], "nice": false, "zero": false}, "axis": null},
       "text": {"field": "name"}}}
    ]
   },
   {
    "width": 716, "height": 769,
    "resolve": {"axis": {"x": "independent", "y": "independent"}},
    "layer": [
     {"data": {"name": "p3"}, "mark": {"type": "circle", "size": 250, "opacity": 1, "clip": true},
      "encoding": {
       "x": {"field": "x", "type": "quantitative", "scale": {"domain": [-4, 4.9], "nice": false, "zero": false}, "axis": {"orient": "bottom", "values": [-2.5, 0, 2.5], "format": ".1f", "ticks": false, "labelPadding": 14, "title": "Σgas log(M⊙/pc²)", "titlePadding": 8}},
       "y": {"field": "y", "type": "quantitative", "scale": {"domain": [-12.8, -6.1], "nice": false, "zero": false}, "axis": {"orient": "left", "values": [-12, -10, -8], "ticks": false, "labelPadding": 17, "title": "ΣSFR log(M⊙/pc²/yr)", "titleFontSize": 66, "titlePadding": 16}},
       "color": {"field": "e", "type": "quantitative", "scale": {"domain": [-1.214, -0.712, -0.211, 0.291, 0.793, 1.294, 1.796, 2.298, 2.8], "range": ["#b40426", "#de604d", "#f49a7b", "#f5c4ac", "#dddddd", "#b8d0f9", "#8db0fe", "#6282ea", "#3b4cc0"], "interpolate": "rgb"}, "legend": null}}},
     {"data": {"name": "c3"}, "mark": {"type": "line", "color": "black", "strokeWidth": 3, "clip": true},
      "encoding": {
       "x": {"field": "x", "type": "quantitative", "scale": {"domain": [-4, 4.9], "nice": false, "zero": false}, "axis": {"orient": "bottom", "values": [-2.5, 0, 2.5], "labels": false, "tickSize": -13, "tickWidth": 2, "title": null}},
       "y": {"field": "y", "type": "quantitative", "scale": {"domain": [-12.8, -6.1], "nice": false, "zero": false}, "axis": {"orient": "left", "values": [-12, -10, -8], "labels": false, "tickSize": -13, "tickWidth": 2, "title": null}},
       "detail": {"field": "c", "type": "nominal"},
       "order": {"field": "i", "type": "quantitative"}}},
     {"data": {"name": "f3"}, "mark": {"type": "line", "color": "black", "strokeWidth": 7, "strokeDash": [35, 10, 7, 10], "strokeCap": "butt"},
      "encoding": {
       "x": {"field": "x", "type": "quantitative", "scale": {"domain": [-4, 4.9], "nice": false, "zero": false}, "axis": {"orient": "bottom", "values": [-3.5, -3, -2, -1.5, -1, -0.5, 0.5, 1, 1.5, 2, 3, 3.5, 4, 4.5], "labels": false, "tickSize": -6, "tickWidth": 2, "title": null}},
       "y": {"field": "y", "type": "quantitative", "scale": {"domain": [-12.8, -6.1], "nice": false, "zero": false}, "axis": {"orient": "left", "values": [-12.5, -11.5, -11, -10.5, -9.5, -9, -8.5, -7.5, -7, -6.5], "labels": false, "tickSize": -6, "tickWidth": 2, "title": null}}}},
     {"data": {"name": "b3"}, "mark": {"type": "rule", "color": "#3a3a3a", "strokeWidth": 2},
      "encoding": {
       "x": {"field": "x", "type": "quantitative", "scale": {"domain": [-4, 4.9], "nice": false, "zero": false}, "axis": null},
       "y": {"field": "lo", "type": "quantitative", "scale": {"domain": [-12.8, -6.1], "nice": false, "zero": false}, "axis": null},
       "y2": {"field": "hi"}}},
     {"data": {"name": "b3"}, "mark": {"type": "circle", "size": 520, "fill": "#8a8a8a", "fillOpacity": 0.9, "stroke": "#111111", "strokeWidth": 2.5},
      "encoding": {
       "x": {"field": "x", "type": "quantitative", "scale": {"domain": [-4, 4.9], "nice": false, "zero": false}, "axis": null},
       "y": {"field": "y", "type": "quantitative", "scale": {"domain": [-12.8, -6.1], "nice": false, "zero": false}, "axis": null}}},
     {"data": {"name": "names"}, "transform": [{"filter": "datum.name === 'rSK'"}], "mark": {"type": "text", "align": "left", "baseline": "alphabetic", "fontSize": 60, "font": "Liberation Serif", "color": "black"},
      "encoding": {
       "x": {"datum": -3.37, "type": "quantitative", "scale": {"domain": [-4, 4.9], "nice": false, "zero": false}, "axis": null},
       "y": {"datum": -6.77, "type": "quantitative", "scale": {"domain": [-12.8, -6.1], "nice": false, "zero": false}, "axis": null},
       "text": {"field": "name"}}}
    ]
   }
  ]
 },
 {
  "width": 33, "height": 769,
  "data": {"name": "cb"},
  "mark": {"type": "rect", "fill": {"gradient": "linear", "x1": 0, "y1": 1, "x2": 0, "y2": 0, "stops": [{"offset": 0, "color": "#b40426"}, {"offset": 0.125, "color": "#de604d"}, {"offset": 0.25, "color": "#f49a7b"}, {"offset": 0.375, "color": "#f5c4ac"}, {"offset": 0.5, "color": "#dddddd"}, {"offset": 0.625, "color": "#b8d0f9"}, {"offset": 0.75, "color": "#8db0fe"}, {"offset": 0.875, "color": "#6282ea"}, {"offset": 1, "color": "#3b4cc0"}]}},
  "encoding": {
   "y": {"field": "lo", "type": "quantitative", "scale": {"domain": [-1.214, 2.8], "nice": false, "zero": false}, "axis": {"orient": "right", "values": [-1, 0, 1, 2], "tickSize": 16, "tickWidth": 2, "labelPadding": 10, "title": "log|EWHα| Å", "titleFontSize": 72, "titleAngle": 270, "titleBaseline": "top", "titlePadding": 30}},
   "y2": {"field": "hi"}
  }
 }
]
}
